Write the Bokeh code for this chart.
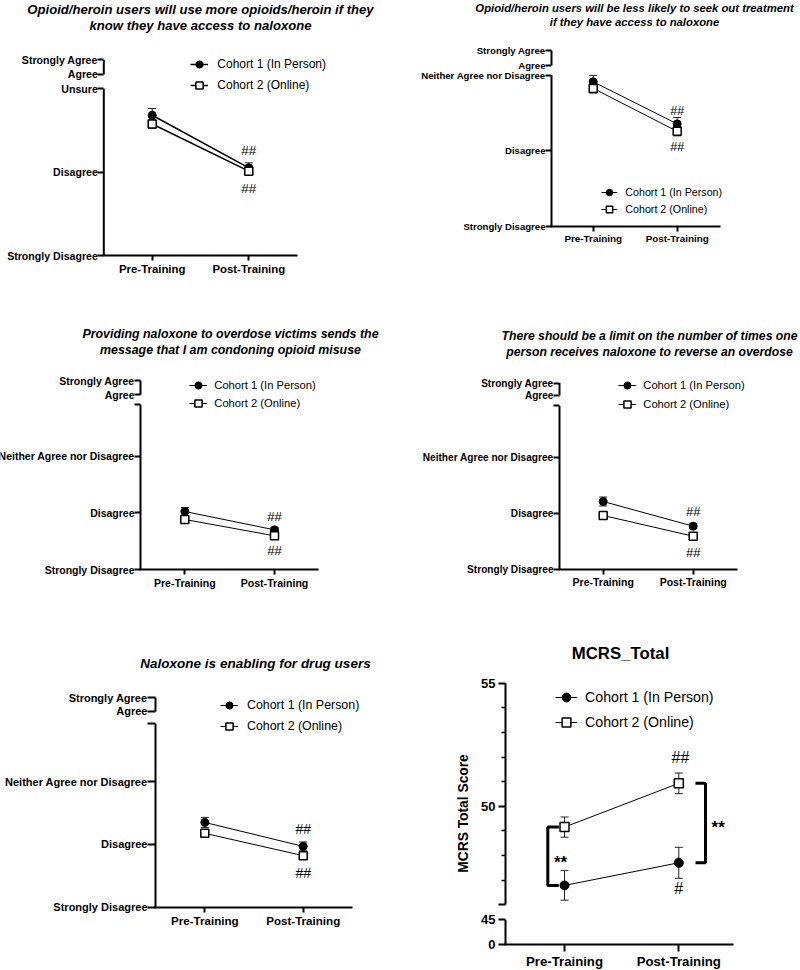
import math
from bokeh.plotting import figure
from bokeh.models import (ColumnDataSource, FixedTicker, Range1d, Legend, LegendItem,
                          Whisker, TeeHead, Label)
from bokeh.layouts import column, row
from bokeh.embed import file_html
from bokeh.resources import INLINE
from bokeh.core.properties import value

FONT = "Liberation Sans"

# ---------------------------------------------------------------- data
timepoints = ["Pre-Training", "Post-Training"]
time_x = [0, 1]
cohort_labels = ["Cohort 1 (In Person)", "Cohort 2 (Online)"]

likert_unsure = ["Strongly Disagree", "Disagree", "Unsure", "Agree", "Strongly Agree"]
likert_neither = ["Strongly Disagree", "Disagree", "Neither Agree nor Disagree", "Agree", "Strongly Agree"]

title_q1 = ["Opioid/heroin users will use more opioids/heroin if they",
            "know they have access to naloxone"]
q1_c1_mean = [2.68, 2.05]
q1_c1_sem = [0.08, 0.06]
q1_c2_mean = [2.575, 2.01]
q1_c2_sem = [0.05, 0.05]

title_q2 = ["Opioid/heroin users will be less likely to seek out treatment",
            "if they have access to naloxone"]
q2_c1_mean = [2.91, 2.353]
q2_c1_sem = [0.085, 0.085]
q2_c2_mean = [2.823, 2.255]
q2_c2_sem = [0.06, 0.06]

title_q3 = ["Providing naloxone to overdose victims sends the",
            "message that I am condoning opioid misuse"]
q3_c1_mean = [2.024, 1.70]
q3_c1_sem = [0.07, 0.04]
q3_c2_mean = [1.883, 1.595]
q3_c2_sem = [0.05, 0.04]

title_q4 = ["There should be a limit on the number of times one",
            "person receives naloxone to reverse an overdose"]
q4_c1_mean = [2.209, 1.768]
q4_c1_sem = [0.08, 0.04]
q4_c2_mean = [1.959, 1.589]
q4_c2_sem = [0.05, 0.04]

title_q5 = ["Naloxone is enabling for drug users"]
q5_c1_mean = [2.349, 1.968]
q5_c1_sem = [0.08, 0.07]
q5_c2_mean = [2.175, 1.82]
q5_c2_sem = [0.05, 0.05]

title_mcrs = ["MCRS_Total"]
mcrs_ylabel = "MCRS Total Score"
mcrs_c1_mean = [46.78, 47.70]
mcrs_c1_sem = [0.60, 0.63]
mcrs_c2_mean = [49.15, 50.93]
mcrs_c2_sem = [0.41, 0.42]
mcrs_major_ticks = [0, 45, 46, 50, 55]
mcrs_major_labels = ["0", "45", "", "50", "55"]
mcrs_minor_ticks = [47, 48, 49, 51, 52, 53, 54]

sig_likert = ["##", "##"]
sig_mcrs = ["##", "#", "**", "**"]

# ---------------------------------------------------------------- geometry (page pixels)
G1 = dict(origin=(0, 0), size=(390, 293), L=103.3, xend=296.7,
          xpx=(151.7, 248.3), ymap=((1.0, 255.0), (3.0, 88.0)),
          main_top_px=None, agree_px=74.0, sa_px=59.3, ytick=6,
          title_x=200, title_y=[9, 25], title_size=13.1, ylab=10.6, xlab=11.4,
          leg=(199.3, 64), leg_glyph=(18, 20, 1), leg_standoff=9, leg_size=12,
          sig_pos=[(1, 2.255), (1, 1.807)], sig_size=13.5, lw=1.5)
G2 = dict(origin=(390, 0), size=(410, 293), L=551, xend=720,
          xpx=(592.7, 676.7), ymap=((1.0, 225.7), (3.0, 74.5)),
          main_top_px=None, agree_px=64.7, sa_px=50.0, ytick=6,
          title_x=634, title_y=[7.5, 21], title_size=11.3, ylab=9.6, xlab=9.9,
          leg=(609.3, 192), leg_glyph=(16, 16, 1), leg_standoff=8, leg_size=10.7,
          sig_pos=[(1, 2.53), (1, 2.045)], sig_size=12.5, lw=1)
G3 = dict(origin=(0, 293), size=(390, 330), L=140, xend=318.3,
          xpx=(184.3, 274.0), ymap=((1.0, 569.0), (3.0, 455.7)),
          main_top_px=404.3, agree_px=394.3, sa_px=380.0, ytick=6,
          title_x=230, title_y=[333.3, 349], title_size=12.4, ylab=10.5, xlab=10.6,
          leg=(198.3, 385), leg_glyph=(18, 18, 0), leg_standoff=7, leg_size=11.2,
          sig_pos=[(1, 1.94), (1, 1.335)], sig_size=13.2, lw=1)
G4 = dict(origin=(390, 293), size=(410, 330), L=559, xend=736.7,
          xpx=(602.7, 692.7), ymap=((1.0, 568.7), (3.0, 456.7)),
          main_top_px=405.5, agree_px=395.0, sa_px=382.5, ytick=6,
          title_x=649, title_y=[335, 351], title_size=12.2, ylab=10.1, xlab=10.5,
          leg=(627.3, 385.3), leg_glyph=(18, 18, 1), leg_standoff=7, leg_size=11.2,
          sig_pos=[(1, 2.025), (1, 1.30)], sig_size=13, lw=1)
G5 = dict(origin=(0, 623), size=(390, 347), L=155, xend=351.7,
          xpx=(204.3, 302.7), ymap=((1.0, 906.7), (3.0, 781.0)),
          main_top_px=723.3, agree_px=711.0, sa_px=697.3, ytick=8,
          title_x=255, title_y=[663], title_size=13.5, ylab=11, xlab=11.6,
          leg=(229, 705), leg_glyph=(18, 20, 1), leg_standoff=9, leg_size=12.4,
          sig_pos=[(1, 2.244), (1, 1.54)], sig_size=14, lw=1)
G6 = dict(origin=(390, 623), size=(410, 347), L=505, xend=733.3, axis_px=944.0,
          xpx=(564.0, 678.3), ymap=((55.0, 682.7), (46.0, 904.1)), px45=919.3, ytick=7,
          title_x=620, title_y=[653], title_size=16.8, ylab=13, xlab=13.2,
          ylabel_xy=(463, 813), ylabel_size=13.8,
          leg=(566, 696.7), leg_glyph=(22, 22, 3), leg_standoff=8, leg_size=14.2,
          sig_pos=[(1.015, 51.97), (1.0, 46.64), (-0.035, 47.70), (1.345, 49.15)],
          sig_size=[16, 16, 17, 17], lw=1,
          brackets=[(558.3, 547.3, 0), (695.0, 705.0, 1)])


def make_panel(g, c1_mean, c1_sem, c2_mean, c2_sem, title_lines, sig_texts,
               cats=None, kind="likert"):
    ox, oy = g["origin"]
    W, H = g["size"]
    Lpx = g["L"]
    xpre, xpost = g["xpx"]

    def px2x(px):
        return (px - xpre) / (xpost - xpre)

    (va, pa), (vb, pb) = g["ymap"]
    ypu = (pa - pb) / (vb - va)

    def px2y(py):
        return va + (pa - py) / ypu

    p = figure(width=W, height=H,
               x_range=Range1d(px2x(ox), px2x(ox + W)),
               y_range=Range1d(px2y(oy + H), px2y(oy)),
               min_border_left=0, min_border_right=0,
               min_border_top=0, min_border_bottom=0,
               output_backend="svg", toolbar_location=None, tools="")
    p.grid.visible = False
    p.outline_line_color = None
    p.background_fill_color = "white"
    p.border_fill_color = "white"

    big = kind != "likert"
    axis_x = px2x(Lpx)
    axis_y = va if kind == "likert" else px2y(g["axis_px"])

    # x axis, placed on the plotted value of its baseline
    xa = p.xaxis[0]
    xa.fixed_location = axis_y
    xa.ticker = FixedTicker(ticks=time_x)
    xa.bounds = (px2x(Lpx - 1), px2x(g["xend"]))
    xa.major_label_overrides = {t: lab for t, lab in zip(time_x, timepoints)}
    xa.major_label_text_font = FONT
    xa.major_label_text_font_style = "bold"
    xa.major_label_text_font_size = f"{g['xlab']}px"
    xa.major_label_text_color = "black"
    xa.axis_line_width = 2
    xa.axis_line_color = "black"
    xa.major_tick_line_width = 2
    xa.major_tick_out = 7 if big else 5
    xa.major_tick_in = 0
    xa.minor_tick_line_color = None
    xa.major_label_standoff = 2

    # y axis (broken axis: ticks from the axis, axis line drawn as segments)
    ya = p.yaxis[0]
    ya.fixed_location = axis_x
    if kind == "likert":
        ticks = [1.0, 2.0, 3.0]
        labs = list(cats[:3])
        main_top = 3.0
        if g["main_top_px"] is not None:
            main_top = round(px2y(g["main_top_px"]), 6)
            ticks.append(main_top)
            labs.append("")
        agree_d = round(px2y(g["agree_px"]), 6)
        sa_d = round(px2y(g["sa_px"]), 6)
        ticks += [agree_d, sa_d]
        labs += [cats[3], cats[4]]
        ya.ticker = FixedTicker(ticks=ticks)
        seg_lo = [1.0, agree_d]
        seg_hi = [main_top, sa_d]
    else:
        d0 = round(axis_y, 6)
        d45 = round(px2y(g["px45"]), 6)
        disp = {0: d0, 45: d45}
        ticks = [disp.get(v, float(v)) for v in mcrs_major_ticks]
        labs = mcrs_major_labels
        ya.ticker = FixedTicker(ticks=ticks, minor_ticks=[float(v) for v in mcrs_minor_ticks])
        seg_lo = [d0, 46.0]
        seg_hi = [d45, 55.0]
    ya.major_label_overrides = {t: lab for t, lab in zip(ticks, labs)}
    ya.major_label_text_font = FONT
    ya.major_label_text_font_style = "bold"
    ya.major_label_text_font_size = f"{g['ylab']}px"
    ya.major_label_text_color = "black"
    ya.axis_line_color = None
    ya.major_tick_line_width = 2
    ya.major_tick_line_color = "black"
    ya.major_tick_out = g["ytick"]
    ya.major_tick_in = 0
    ya.minor_tick_out = 4
    ya.minor_tick_in = 0
    ya.minor_tick_line_width = 1.5
    ya.minor_tick_line_color = "black" if big else None
    ya.major_label_standoff = 3 if big else 0

    p.segment(x0=[axis_x] * len(seg_lo), y0=seg_lo, x1=[axis_x] * len(seg_lo), y1=seg_hi,
              line_color="black", line_width=2)

    if big:
        lx, ly = g["ylabel_xy"]
        p.add_layout(Label(x=px2x(lx), y=px2y(ly), text=mcrs_ylabel, angle=90, angle_units="deg",
                           text_align="center", text_baseline="middle", text_font=FONT,
                           text_font_style="bold", text_font_size=f"{g['ylabel_size']}px",
                           text_color="black"))

    # error bars
    for m, s in ((c1_mean, c1_sem), (c2_mean, c2_sem)):
        src = ColumnDataSource(dict(x=time_x, upper=[a + b for a, b in zip(m, s)],
                                    lower=[a - b for a, b in zip(m, s)]))
        p.add_layout(Whisker(source=src, base="x", upper="upper", lower="lower",
                             dimension="height", line_color="#222222", line_width=1,
                             upper_head=TeeHead(size=8, line_color="#222222", line_width=1),
                             lower_head=TeeHead(size=8, line_color="#222222", line_width=1)))

    msize = 9 if big else 8
    l1 = p.line(x=time_x, y=c1_mean, line_color="black", line_width=g["lw"])
    l2 = p.line(x=time_x, y=c2_mean, line_color="black", line_width=g["lw"])
    s1 = p.scatter(x=time_x, y=c1_mean, marker="circle", size=msize,
                   fill_color="black", line_color="black")
    s2 = p.scatter(x=time_x, y=c2_mean, marker="square", size=msize,
                   fill_color="white", line_color="black", line_width=1.5)

    # significance brackets (MCRS)
    for arm_px, bar_px, idx in g.get("brackets", []):
        xa_, xb_ = px2x(arm_px), px2x(bar_px)
        p.line(x=[xa_, xb_, xb_, xa_], y=[c2_mean[idx], c2_mean[idx], c1_mean[idx], c1_mean[idx]],
               line_color="black", line_width=3)

    # significance texts
    sizes = g["sig_size"] if isinstance(g["sig_size"], list) else [g["sig_size"]] * len(sig_texts)
    for (sx, sy), txt, fs in zip(g["sig_pos"], sig_texts, sizes):
        p.text(x=[sx], y=[sy], text=[txt], text_font=value(FONT), text_font_size=f"{fs}px",
               text_font_style="bold" if txt == "**" else "normal",
               text_align="center", text_baseline="middle", text_color="black")

    # legend (location is measured from the bottom-left of the plotting area)
    gw, gh, sp = g["leg_glyph"]
    cx, cy = g["leg"]
    leg_left = cx - gw / 2
    leg_top = cy - gh / 2
    leg_h = 2 * gh + sp
    legend = Legend(items=[LegendItem(label=cohort_labels[0], renderers=[l1, s1]),
                           LegendItem(label=cohort_labels[1], renderers=[l2, s2])],
                    location=(leg_left - ox, oy + H - (leg_top + leg_h)),
                    orientation="vertical", padding=0, margin=0, spacing=sp,
                    glyph_width=gw, glyph_height=gh, label_height=gh,
                    label_standoff=g["leg_standoff"],
                    border_line_color=None, background_fill_alpha=0,
                    label_text_font=FONT, label_text_font_size=f"{g['leg_size']}px",
                    label_text_color="black")
    p.add_layout(legend)

    # title
    for line, ty in zip(title_lines, g["title_y"]):
        p.add_layout(Label(x=px2x(g["title_x"]), y=px2y(ty), text=line,
                           text_align="center", text_baseline="middle",
                           text_font=FONT,
                           text_font_style="bold" if big else "bold italic",
                           text_font_size=f"{g['title_size']}px", text_color="black"))
    return p


p1 = make_panel(G1, q1_c1_mean, q1_c1_sem, q1_c2_mean, q1_c2_sem, title_q1, sig_likert, likert_unsure)
p2 = make_panel(G2, q2_c1_mean, q2_c1_sem, q2_c2_mean, q2_c2_sem, title_q2, sig_likert, likert_neither)
p3 = make_panel(G3, q3_c1_mean, q3_c1_sem, q3_c2_mean, q3_c2_sem, title_q3, sig_likert, likert_neither)
p4 = make_panel(G4, q4_c1_mean, q4_c1_sem, q4_c2_mean, q4_c2_sem, title_q4, sig_likert, likert_neither)
p5 = make_panel(G5, q5_c1_mean, q5_c1_sem, q5_c2_mean, q5_c2_sem, title_q5, sig_likert, likert_neither)
p6 = make_panel(G6, mcrs_c1_mean, mcrs_c1_sem, mcrs_c2_mean, mcrs_c2_sem, title_mcrs, sig_mcrs,
                kind="mcrs")

layout = column(row(p1, p2), row(p3, p4), row(p5, p6))
open("out.html", "w").write(file_html(layout, INLINE))
